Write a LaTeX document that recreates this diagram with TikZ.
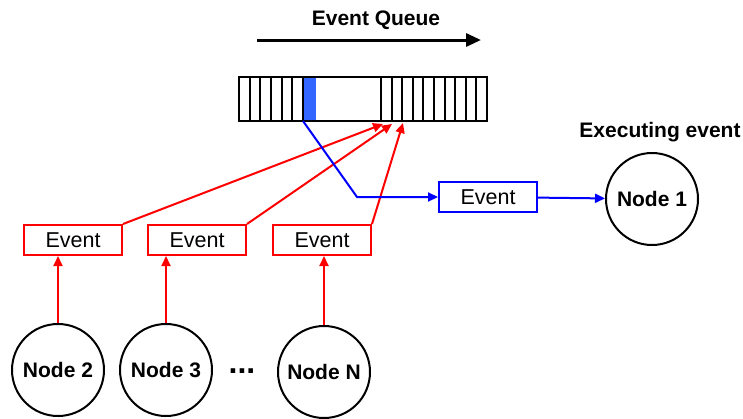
\documentclass[tikz,border=0pt]{standalone}
\usepackage{fontspec}
\setmainfont{Liberation Sans}
\usetikzlibrary{arrows.meta}
\definecolor{qblue}{RGB}{51,102,255}
\tikzset{
  evbox/.style={draw=red, line width=1pt, minimum width=49pt, minimum height=15pt, inner sep=0pt, font=\fontsize{10.75}{12}\selectfont},
  curbox/.style={evbox, draw=blue},
  simnode/.style={circle, draw, line width=1pt, minimum size=46pt, inner sep=0pt, font=\fontsize{10.5}{12}\selectfont\bfseries},
  lbl/.style={font=\fontsize{10.5}{12}\selectfont\bfseries}
}
\begin{document}
\begin{tikzpicture}[x=0.5pt,y=-0.5pt,>={Triangle[length=5pt,width=4.5pt]}]
            \useasboundingbox (0,0) rectangle (743,418);

            % Titolo e verso della coda
            \node[lbl] (title) at (376,20) {Event Queue};
            \coordinate (qs) at (257,40);
            \coordinate (qe) at (481,40);
            \draw[-{Triangle[length=7.5pt,width=6.5pt]}, line width=1.5pt] (qs) -- (qe);

            % Coda degli eventi
            \fill[qblue] (303,77) rectangle (316,121);
            \draw[line width=1pt] (239,77) rectangle (487,121);
            \foreach \k in {1,...,6} \draw[line width=1pt] ({239+10.67*\k},77) -- ++(0,44);
            \foreach \k in {0,...,9} \draw[line width=1pt] ({381+10.6*\k},77) -- ++(0,44);
            \coordinate (qb) at (303,121);
            \coordinate (q1) at (383,124);
            \coordinate (q2) at (392,124);
            \coordinate (q3) at (403,123);

            % Eventi
            \node[evbox] (e1) at (73,240) {Event};
            \node[evbox] (e2) at (197,240) {Event};
            \node[evbox] (e3) at (322,240) {Event};
            \node[curbox] (e0) at (488,197) {Event};

            % Nodi
            \node[simnode] (n1) at (652,199) {Node 1};
            \node[lbl] (exec) at (660,132) {Executing event};
            \node[simnode] (n2) at (58,370) {Node 2};
            \node[simnode] (n3) at (166,370) {Node 3};
            \node[simnode] (nN) at (324,372) {Node N};
            \node[font=\fontsize{16}{16}\selectfont\bfseries, anchor=base] (dots) at (242,373) {...};

            % Inserimento nella coda
            \draw[->, red, line width=1pt] (n2.north) -- (n2.north |- e1.south);
            \draw[->, red, line width=1pt] (n3.north) -- (n3.north |- e2.south);
            \draw[->, red, line width=1pt] (nN.north) -- (nN.north |- e3.south);
            \draw[->, red, line width=1pt] (e1.north east) -- (q1);
            \draw[->, red, line width=1pt] (e2.north east) -- (q2);
            \draw[->, red, line width=1pt] (e3.north east) -- (q3);

            % Evento in esecuzione
            \coordinate (bend) at (357,197);
            \draw[->, blue, line width=1pt] (qb) -- (bend) -- (e0.west);
            \draw[->, blue, line width=1pt] (e0) -- (n1);
\end{tikzpicture}
\end{document}
